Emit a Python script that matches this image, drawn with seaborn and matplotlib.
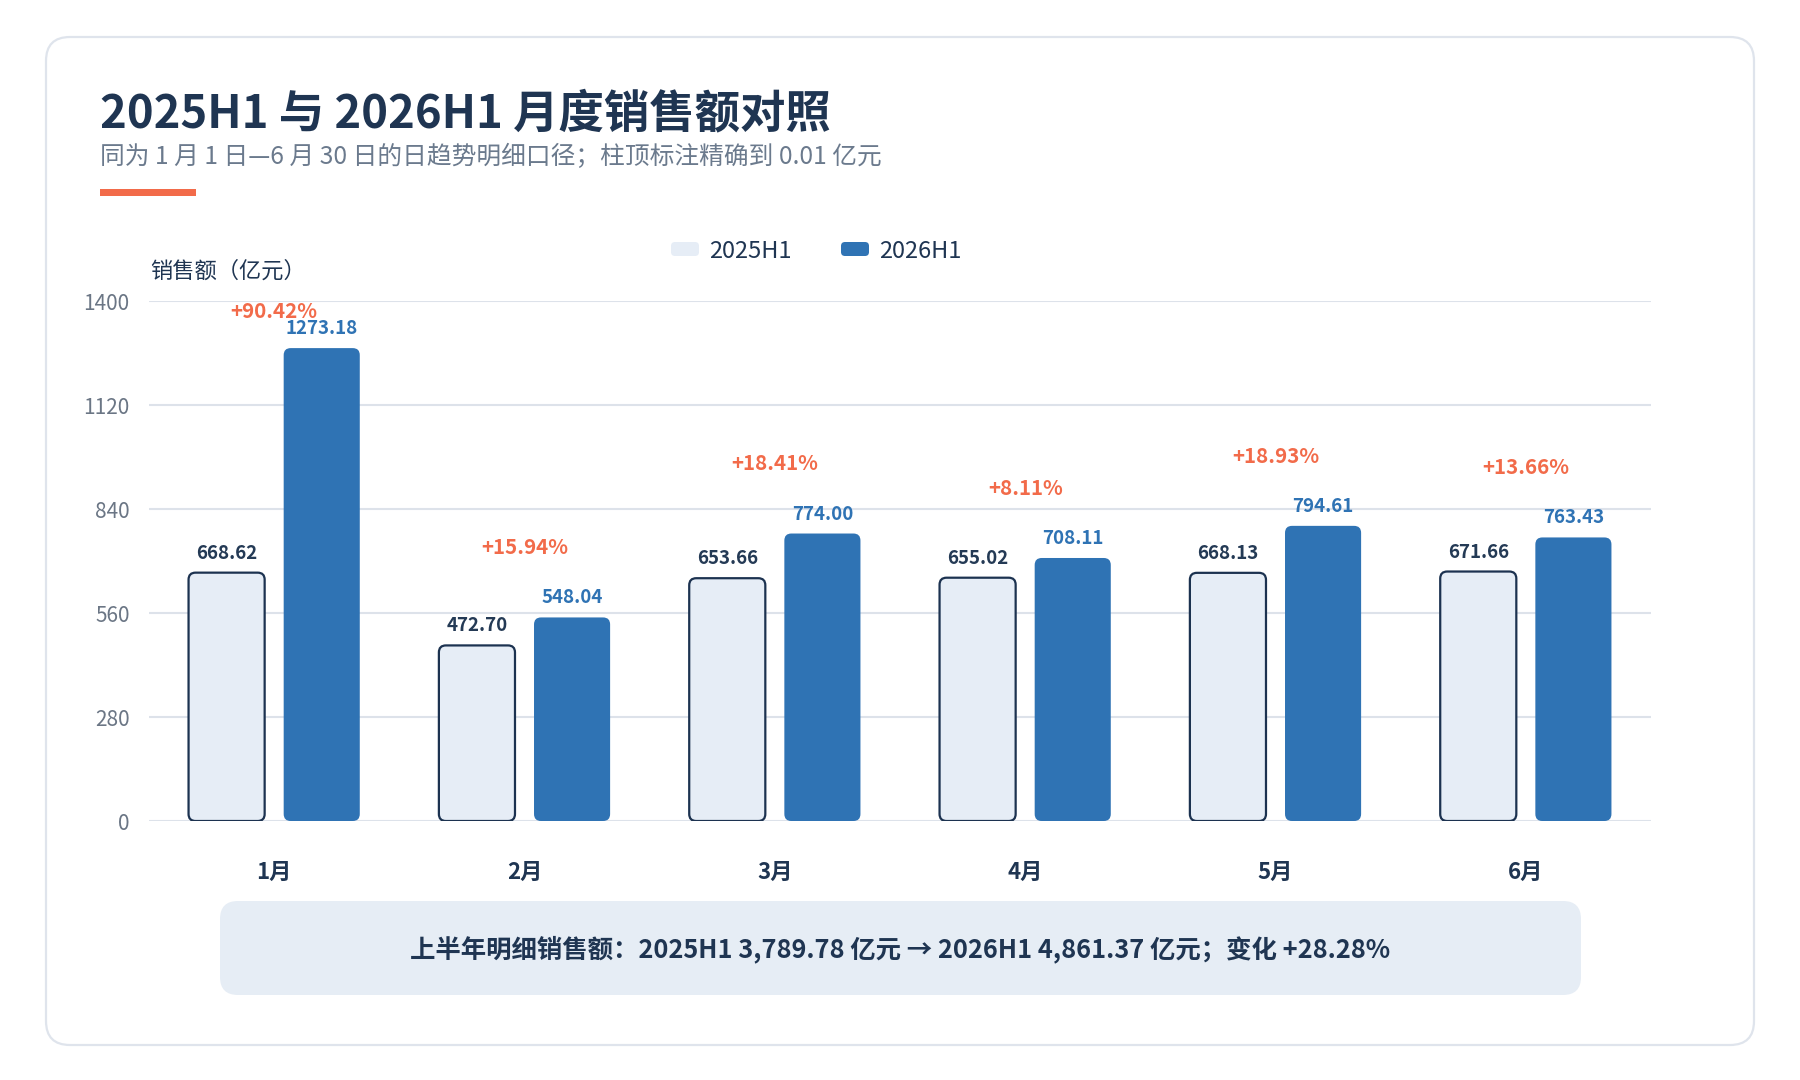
import matplotlib
matplotlib.use("Agg")
import matplotlib.pyplot as plt
from matplotlib.patches import FancyBboxPatch
import numpy as np
import pandas as pd
import seaborn as sns

# ---------------- data ----------------
months = ['1月', '2月', '3月', '4月', '5月', '6月']
periods = ['2025H1', '2026H1']
sales_2025 = [668.62, 472.70, 653.66, 655.02, 668.13, 671.66]
sales_2026 = [1273.18, 548.04, 774.00, 708.11, 794.61, 763.43]
yticks = [0, 280, 560, 840, 1120, 1400]
total_text = "上半年明细销售额：2025H1 3,789.78 亿元 → 2026H1 4,861.37 亿元；变化 +28.28%"
title_text = "2025H1 与 2026H1 月度销售额对照"
subtitle_text = "同为 1 月 1 日—6 月 30 日的日趋势明细口径；柱顶标注精确到 0.01 亿元"
ylabel_text = "销售额（亿元）"

# ---------------- style ----------------
sns.set_theme(style="white")
plt.rcParams['font.family'] = ['Noto Sans CJK SC', 'DejaVu Sans']

C_TITLE = "#1f3552"
C_SUB = "#6b7a8d"
C_ORANGE = "#f26b4a"
C_LIGHT = "#e6edf6"
C_EDGE = "#1c3250"
C_BLUE = "#2f73b4"
C_GRID = "#dde2ea"
C_TICK = "#6b7685"
C_BOX = "#e6edf5"

W, H = 1800, 1080
fig = plt.figure(figsize=(W / 100, H / 100), dpi=100, facecolor="white")

# background axes in pixel coordinates
bg = fig.add_axes([0, 0, 1, 1], zorder=0)
bg.set_xlim(0, W)
bg.set_ylim(H, 0)
bg.axis("off")

card = FancyBboxPatch((46, 37), 1708, 1008, boxstyle="round,pad=0,rounding_size=24",
                      facecolor="white", edgecolor="#dfe4ec", linewidth=1.6)
bg.add_patch(card)
bg.add_patch(FancyBboxPatch((100, 189), 96, 7, boxstyle="square,pad=0",
                            facecolor=C_ORANGE, edgecolor="none"))
bg.text(100, 114, title_text, fontsize=32.7, fontweight="bold", color=C_TITLE,
        ha="left", va="center")
bg.text(100, 157, subtitle_text, fontsize=17.8, color=C_SUB, ha="left", va="center")
bg.text(150, 271, ylabel_text, fontsize=16, color=C_TITLE, ha="left", va="center")

# legend (manual)
leg_items = [(periods[0], C_LIGHT, 671), (periods[1], C_BLUE, 841)]
for name, col, x0 in leg_items:
    bg.add_patch(FancyBboxPatch((x0, 242), 28, 14, boxstyle="round,pad=0,rounding_size=4",
                                facecolor=col, edgecolor="none"))
    bg.text(x0 + 38, 251, name, fontsize=17, color=C_TITLE, ha="left", va="center")

# summary box
bg.add_patch(FancyBboxPatch((220, 901), 1361, 94, boxstyle="round,pad=0,rounding_size=18",
                            facecolor=C_BOX, edgecolor="none"))
bg.text(900, 949, total_text, fontsize=18.3, fontweight="bold", color=C_TITLE,
        ha="center", va="center")

# ---------------- main chart ----------------
ax = fig.add_axes([149 / W, 259 / H, 1502 / W, 520 / H], zorder=1)
ax.patch.set_alpha(0)

df = pd.DataFrame({
    "month": months * 2,
    "sales": sales_2025 + sales_2026,
    "period": [periods[0]] * len(months) + [periods[1]] * len(months),
})
sns.barplot(data=df, x="month", y="sales", hue="period", order=months, hue_order=periods,
            palette={periods[0]: C_LIGHT, periods[1]: C_BLUE}, width=0.76, gap=0.2,
            saturation=1, legend=False, ax=ax, errorbar=None)

ax.set_xlim(-0.5, len(months) - 0.5)
ax.set_ylim(0, 1400)

# rounded bars built from seaborn's bars
px_per_x = 1502 / len(months)
px_per_y = 520 / 1400
r_px = 7
rx = r_px / px_per_x
aspect = (r_px / px_per_y) / rx
for p in list(ax.patches):
    x, y, w, h = p.get_x(), p.get_y(), p.get_width(), p.get_height()
    cx = x + w / 2
    is_first = cx < round(cx)
    fc = p.get_facecolor()
    p.set_visible(False)
    if is_first:
        bar = FancyBboxPatch((x, y), w, h, boxstyle=f"round,pad=0,rounding_size={rx}",
                             mutation_aspect=aspect, facecolor=fc, edgecolor=C_EDGE,
                             linewidth=1.6, zorder=3)
    else:
        bar = FancyBboxPatch((x, y), w, h, boxstyle=f"round,pad=0,rounding_size={rx}",
                             mutation_aspect=aspect, facecolor=fc, edgecolor="none",
                             zorder=3)
    ax.add_patch(bar)

# grid
ax.set_yticks(yticks)
ax.yaxis.grid(True, color=C_GRID, linewidth=1.5, zorder=0)
ax.set_axisbelow(True)
for s in ax.spines.values():
    s.set_visible(False)
ax.tick_params(axis="y", length=0, pad=14, labelsize=15, labelcolor=C_TICK)
ax.tick_params(axis="x", length=0, pad=29, labelsize=16, labelcolor=C_TITLE)
for lbl in ax.get_xticklabels():
    lbl.set_fontweight("bold")
ax.set_xlabel("")
ax.set_ylabel("")

# labels
off = 0.38 / 2
for i, (a, b) in enumerate(zip(sales_2025, sales_2026)):
    ax.annotate(f"{a:.2f}", (i - off, a), xytext=(0, 14), textcoords="offset points",
                ha="center", va="center", fontsize=13.5, fontweight="bold",
                color="#243a55", zorder=5, annotation_clip=False)
    ax.annotate(f"{b:.2f}", (i + off, b), xytext=(0, 14), textcoords="offset points",
                ha="center", va="center", fontsize=13.5, fontweight="bold",
                color=C_BLUE, zorder=5, annotation_clip=False)
    pct = (b / a - 1) * 100
    py = min(max(a, b) + 188, 1372)
    ax.text(i, py, f"{pct:+.2f}%", ha="center", va="center", fontsize=14.8,
            fontweight="bold", color=C_ORANGE, zorder=5, clip_on=False)

fig.savefig("out.png", dpi=100, facecolor="white")
